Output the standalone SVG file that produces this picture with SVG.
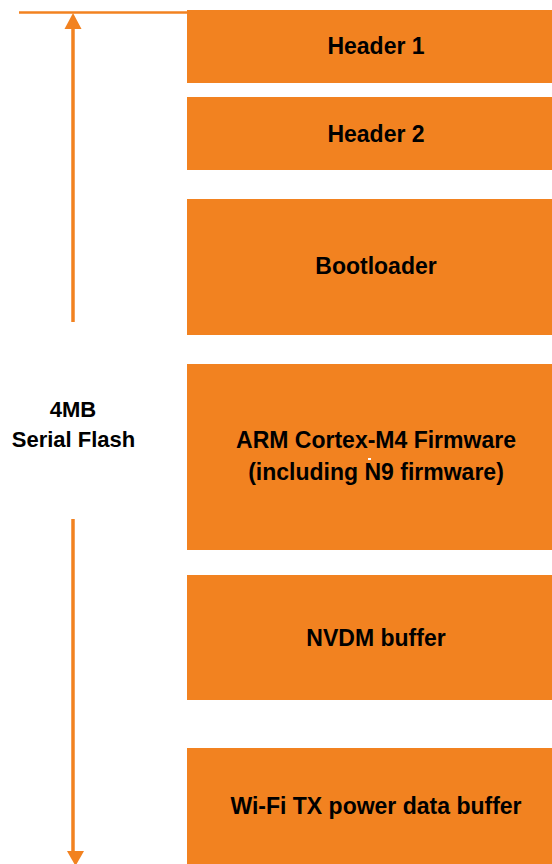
<svg xmlns="http://www.w3.org/2000/svg" width="552" height="864" viewBox="0 0 552 864">
<style>
.box{fill:#F28220}
.lbl{font-family:"Liberation Sans",Arial,sans-serif;font-weight:bold;font-size:23px;fill:#000;text-anchor:middle}
.side{font-family:"Liberation Sans",Arial,sans-serif;font-weight:bold;font-size:22px;fill:#000;text-anchor:middle}
.ln{stroke:#F28220;fill:none}
</style>
<rect width="552" height="864" fill="#fff"/>
<g id="header1"><rect class="box" x="187" y="10" width="365" height="73"/><text class="lbl" x="376" y="54">Header 1</text></g>
<g id="header2"><rect class="box" x="187" y="97" width="365" height="73"/><text class="lbl" x="376" y="142">Header 2</text></g>
<g id="bootloader"><rect class="box" x="187" y="199" width="365" height="136"/><text class="lbl" x="376" y="274">Bootloader</text></g>
<g id="firmware"><rect class="box" x="187" y="364" width="365" height="186"/><text class="lbl" x="376" y="448">ARM Cortex-M4 Firmware</text><text class="lbl" x="376" y="480">(including N9 firmware)</text><rect x="368" y="458" width="3" height="2" fill="#fff"/></g>
<g id="nvdm"><rect class="box" x="187" y="575" width="365" height="125"/><text class="lbl" x="376" y="646">NVDM buffer</text></g>
<g id="wifi"><rect class="box" x="187" y="748" width="365" height="116"/><text class="lbl" x="376" y="814">Wi-Fi TX power data buffer</text></g>
<g id="size-label"><text class="side" x="73" y="417">4MB</text><text class="side" x="73.5" y="447">Serial Flash</text></g>
<g id="connectors">
<line class="ln" x1="19" y1="12.5" x2="187" y2="12.5" stroke-width="2.5"/>
<line class="ln" x1="73" y1="28" x2="73" y2="322" stroke-width="3.5"/>
<polygon points="73,13 64.5,29 81.5,29" fill="#F28220"/>
<line class="ln" x1="73" y1="519" x2="73" y2="852" stroke-width="3.5"/>
<polygon points="67,851 84,851 75.5,866" fill="#F28220"/>
</g>
</svg>
